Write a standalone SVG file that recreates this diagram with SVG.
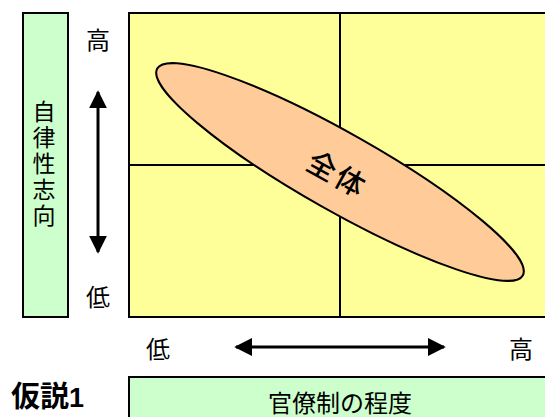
<svg xmlns="http://www.w3.org/2000/svg" width="545" height="417" viewBox="0 0 545 417">
<defs>
<style>
.t{font-family:"Noto Sans CJK JP","Liberation Sans",sans-serif;font-size:24px;fill:#000}
.v{font-family:"Noto Sans CJK JP","Liberation Sans",sans-serif;font-size:23px;fill:#000;writing-mode:vertical-rl;text-orientation:upright}
.box{stroke:#000;stroke-width:2}
.ln{stroke:#000;stroke-width:2;fill:none}
.ax{stroke:#000;stroke-width:3;fill:none}
</style>
<marker id="ah" viewBox="0 0 10 10" refX="9" refY="5" markerWidth="6" markerHeight="6" markerUnits="strokeWidth" orient="auto-start-reverse">
<path d="M0,0 L10,5 L0,10 Z" fill="#000"/>
</marker>
</defs>
<rect width="545" height="417" fill="#fff"/>
<g id="quadrant">
<rect class="box" x="129" y="13" width="420" height="304" fill="#FFFF99"/>
<line class="ln" x1="340" y1="13" x2="340" y2="317"/>
<line class="ln" x1="129" y1="165" x2="549" y2="165"/>
</g>
<g id="whole">
<ellipse cx="340" cy="172" rx="210" ry="39" transform="rotate(29.5 340 172)" fill="#FFCC99" stroke="#000" stroke-width="2"/>
<text x="337" y="185" text-anchor="middle" letter-spacing="3" style="font-family:'Noto Sans CJK JP','Liberation Sans',sans-serif;font-size:29px;font-weight:500" transform="rotate(29 337 175)">全体</text>
</g>
<g id="yaxis-label">
<rect class="box" x="23" y="13" width="45" height="304" fill="#CCFFCC"/>
<text class="v" x="44" y="100" letter-spacing="3">自律性志向</text>
</g>
<g id="xaxis-label">
<rect class="box" x="129" y="377" width="420" height="50" fill="#CCFFCC"/>
<text class="t" x="340" y="412" text-anchor="middle">官僚制の程度</text>
</g>
<g id="ticks">
<text class="t" x="98" y="49" text-anchor="middle">高</text>
<text class="t" x="98" y="306" text-anchor="middle">低</text>
<text class="t" x="158" y="358" text-anchor="middle">低</text>
<text class="t" x="521" y="358" text-anchor="middle">高</text>
</g>
<g id="title">
<text x="11" y="407" style="font-family:'Noto Sans CJK JP','Liberation Sans',sans-serif;font-size:29px;font-weight:bold">仮説<tspan style="font-family:'Liberation Sans',sans-serif;font-size:27px">1</tspan></text>
</g>
<g id="connectors">
<line class="ax" x1="98" y1="92" x2="98" y2="252" marker-start="url(#ah)" marker-end="url(#ah)"/>
<line class="ax" x1="236" y1="347" x2="444" y2="347" marker-start="url(#ah)" marker-end="url(#ah)"/>
</g>
</svg>
